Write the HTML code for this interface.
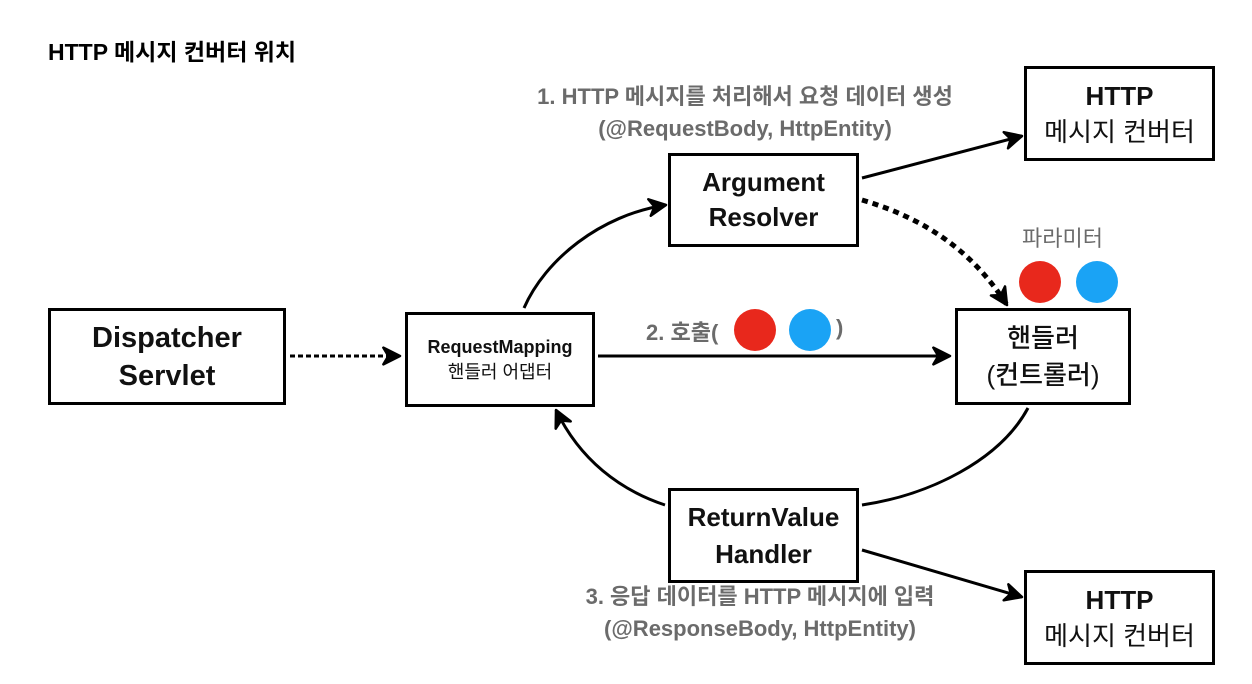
<!DOCTYPE html>
<html><head><meta charset="utf-8"><style>
html,body{margin:0;padding:0;background:#fff;}
body{width:1252px;height:684px;position:relative;overflow:hidden;font-family:"Liberation Sans","Noto Sans CJK KR",sans-serif;}
.box{position:absolute;border:3px solid #000;box-sizing:border-box;display:flex;align-items:center;justify-content:center;text-align:center;color:#111;font-weight:bold;}
.t{position:absolute;font-weight:bold;color:#6b6b6b;font-size:22px;text-align:center;white-space:nowrap;}
.c{position:absolute;border-radius:50%;width:42px;height:42px;}
</style></head><body>
<div style="position:absolute;left:48px;top:33px;font-size:23px;font-weight:bold;">HTTP 메시지 컨버터 위치</div>
<svg width="1252" height="684" style="position:absolute;left:0;top:0">
<defs>
<marker id="h" viewBox="0 0 12 12" markerWidth="20" markerHeight="20" refX="11" refY="6" orient="auto" markerUnits="userSpaceOnUse"><path d="M1,1 L11,6 L1,11 L4,6 Z" fill="#000" stroke="#000" stroke-width="1.5" stroke-linejoin="round"/></marker></defs>
<g stroke="#000" stroke-width="3" fill="none">
<line x1="290" y1="356" x2="400" y2="356" stroke-dasharray="5,3" marker-end="url(#h)"/>
<line x1="598" y1="356" x2="950" y2="356" marker-end="url(#h)"/>
<path d="M524,308 C545,260 600,215 666,205" marker-end="url(#h)"/>
<path d="M862,178 L1022,136" marker-end="url(#h)"/>
<path d="M862,200 C930,220 975,255 1007,305" stroke-dasharray="6,5" stroke-width="5" marker-end="url(#h)"/>
<path d="M1028,408 C1000,460 930,495 862,505"/>
<path d="M665,505 C620,490 580,460 556,410" marker-end="url(#h)"/>
<path d="M862,550 L1022,597" marker-end="url(#h)"/>
</g></svg>
<div class="box" style="left:48px;top:308px;width:238px;height:97px;font-size:29px;line-height:38px;">Dispatcher<br>Servlet</div>
<div class="box" style="left:405px;top:312px;width:190px;height:95px;font-size:18px;line-height:25px;"><span>RequestMapping<br><span style="font-weight:normal">핸들러 어댑터</span></span></div>
<div class="box" style="left:668px;top:153px;width:191px;height:94px;font-size:26px;line-height:35px;">Argument<br>Resolver</div>
<div class="box" style="left:955px;top:308px;width:176px;height:97px;font-size:26px;line-height:37px;font-weight:500;">핸들러<br>(컨트롤러)</div>
<div class="box" style="left:668px;top:488px;width:191px;height:95px;font-size:26px;line-height:37px;">ReturnValue<br>Handler</div>
<div class="box" style="left:1024px;top:66px;width:191px;height:95px;font-size:26px;line-height:36px;font-weight:normal;"><span><b>HTTP</b><br>메시지 컨버터</span></div>
<div class="box" style="left:1024px;top:570px;width:191px;height:95px;font-size:26px;line-height:36px;font-weight:normal;"><span><b>HTTP</b><br>메시지 컨버터</span></div>
<div class="t" style="left:490px;top:81px;width:510px;line-height:32px;">1. HTTP 메시지를 처리해서 요청 데이터 생성<br>(@RequestBody, HttpEntity)</div>
<div class="t" style="left:540px;top:581px;width:440px;line-height:32px;">3. 응답 데이터를 HTTP 메시지에 입력<br>(@ResponseBody, HttpEntity)</div>
<div class="t" style="left:646px;top:315px;">2. 호출(</div>
<div class="t" style="left:836px;top:315px;">)</div>
<div class="c" style="left:734px;top:309px;background:#e8281c;"></div>
<div class="c" style="left:789px;top:309px;background:#1aa3f5;"></div>
<div class="t" style="left:1022px;top:221px;font-weight:normal;">파라미터</div>
<div class="c" style="left:1019px;top:261px;background:#e8281c;"></div>
<div class="c" style="left:1076px;top:261px;background:#1aa3f5;"></div>
</body></html>
